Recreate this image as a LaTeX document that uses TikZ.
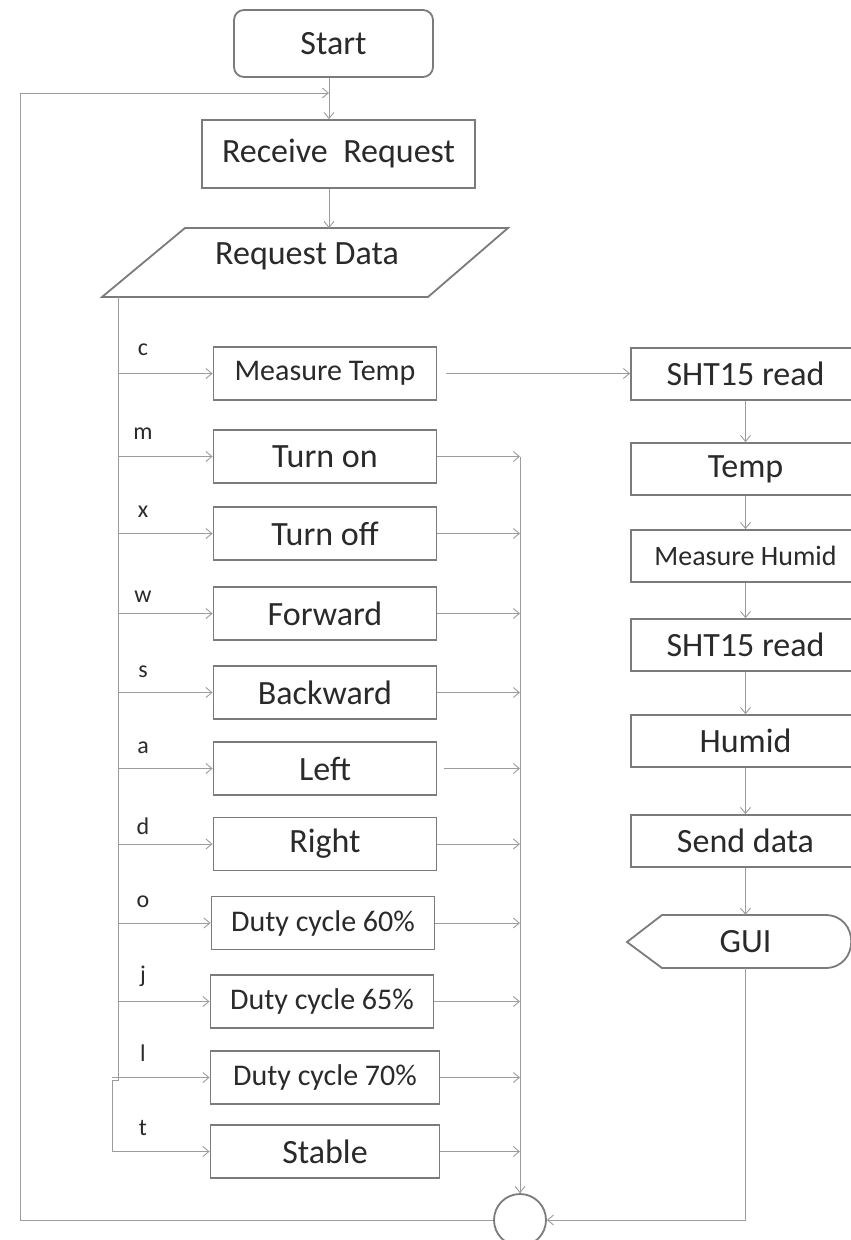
\documentclass[tikz,border=0pt]{standalone}
\usepackage{fontspec}
\setmainfont{Carlito}
\usetikzlibrary{arrows.meta}
\definecolor{boxgray}{HTML}{7B7B7B}
\definecolor{linegray}{HTML}{9C9C9C}
\definecolor{inkgray}{HTML}{2A2A2A}
\begin{document}
\begin{tikzpicture}[x=1pt,y=-1pt,
  every node/.style={text=inkgray, inner sep=0pt},
  shapeline/.style={draw=boxgray, line width=1.8pt},
  procbox/.style={shapeline, rectangle, minimum height=53pt},
  leftbox/.style={procbox, minimum width=223pt},
  rightbox/.style={procbox, minimum width=229pt, minimum height=52pt},
  big/.style={font=\fontsize{34}{38}\selectfont},
  mid/.style={font=\fontsize{30}{34}\selectfont},
  small/.style={font=\fontsize{28}{32}\selectfont},
  keylabel/.style={font=\fontsize{24}{26}\selectfont},
  wire/.style={draw=linegray, line width=0.9pt},
  flow/.style={wire, -{Straight Barb[length=6pt,width=10pt,line width=0.9pt]}},
]
\useasboundingbox (0,0) rectangle (851,1240);
\fill[white] (0,0) rectangle (851,1240);
\clip (0,0) rectangle (851,1240);

% ---- main column ----
\node[shapeline, rounded corners=10pt, minimum width=199pt, minimum height=67pt, big] (start) at (333.5,43.5) {Start};
\node[procbox, minimum width=273pt, minimum height=68pt, big] (rr) at (338.5,154) {Receive~ Request};
\coordinate (mainx) at (329,0);
\coordinate (fb) at (329,93);

% input/output parallelogram
\draw[shapeline] (185,228) -- (508,228) -- (428,297) -- (102,297) -- cycle;
\node[big] (rd) at (307,256) {Request Data};
\coordinate (rdtop) at (329,228);

\draw[flow] (start.south -| mainx) -- (rr.north -| mainx);
\draw[flow] (rr.south -| mainx) -- (rdtop);

% ---- command boxes ----
\node[leftbox, mid]   (mt)   at (325,373.5)  {Measure Temp};
\node[leftbox, big]   (ton)  at (325,456.5)  {Turn on};
\node[leftbox, big]   (toff) at (325,533.5)  {Turn off};
\node[leftbox, big]   (fwd)  at (325,613.5)  {Forward};
\node[leftbox, big]   (bwd)  at (325,692.5)  {Backward};
\node[leftbox, big]   (lft)  at (325,768.5)  {Left};
\node[leftbox, big]   (rgt)  at (325,844)    {Right};
\node[leftbox, mid]   (d60)  at (323,923)    {Duty cycle 60\%};
\node[leftbox, mid]   (d65)  at (322,1001.5) {Duty cycle 65\%};
\node[leftbox, mid, minimum width=229pt] (d70) at (325,1077.5) {Duty cycle 70\%};
\node[leftbox, big, minimum width=229pt] (stb) at (325,1151.5) {Stable};

% key labels
\foreach \k/\y in {c/350,m/434,x/512,w/597,s/672,a/748,d/826,o/902,j/976,l/1053,t/1128}
  \node[keylabel] (key-\k) at (143,\y) {\k};

% branch line from the request data
\coordinate (bx) at (118,297);
\coordinate (bjog) at (118,1080);
\coordinate (bx2) at (112,1080);
\draw[wire] (bx) -- (bjog) -- (bx2) -- (bx2 |- stb.west);
\foreach \b in {mt,ton,toff,fwd,bwd,lft,rgt,d60,d65}
  \draw[flow] (bx |- \b.west) -- (\b.west);
\foreach \b in {d70,stb}
  \draw[flow] (bx2 |- \b.west) -- (\b.west);

% connector circle and merge line
\node[shapeline, circle, minimum size=52pt] (merge) at (520,1220) {};
\draw[wire] (ton.east -| merge) -- (merge.north);
\draw[flow] ([yshift=10pt]merge.north) -- (merge.north);
\foreach \b in {ton,toff,fwd,bwd,rgt,d60,d65,d70,stb}
  \draw[flow] (\b.east) -- (\b.east -| merge);
\draw[flow, shorten <=7pt] (lft.east) -- (lft.east -| merge);

% ---- sensor column ----
\node[rightbox, big]   (sht1) at (745.5,374) {SHT15 read};
\node[rightbox, big]   (temp) at (745.5,469) {Temp};
\node[rightbox, small] (mhum) at (745.5,556) {Measure Humid};
\node[rightbox, big]   (sht2) at (745.5,645) {SHT15 read};
\node[rightbox, big]   (hum)  at (745.5,741) {Humid};
\node[rightbox, big]   (send) at (745.5,841) {Send data};

% display shape
\draw[shapeline] (627,942) -- (662,915) -- (825,915)
  .. controls (860,915) and (860,968) .. (825,968) -- (662,968) -- cycle;
\node[minimum width=120pt, minimum height=53pt, big] (gui) at (745.5,941.5) {GUI};

\draw[flow, shorten <=9pt] (mt.east) -- (mt.east -| sht1.west);
\draw[flow] (sht1) -- (temp);
\draw[flow] (temp) -- (mhum);
\draw[flow] (mhum) -- (sht2);
\draw[flow] (sht2) -- (hum);
\draw[flow] (hum) -- (send);
\draw[flow] (send) -- (gui);

% return paths
\draw[flow] (gui.south) |- (merge.east);
\coordinate (lx) at (20,0);
\draw[flow] (merge.west) -| (lx |- fb) -- (fb);
\end{tikzpicture}
\end{document}
